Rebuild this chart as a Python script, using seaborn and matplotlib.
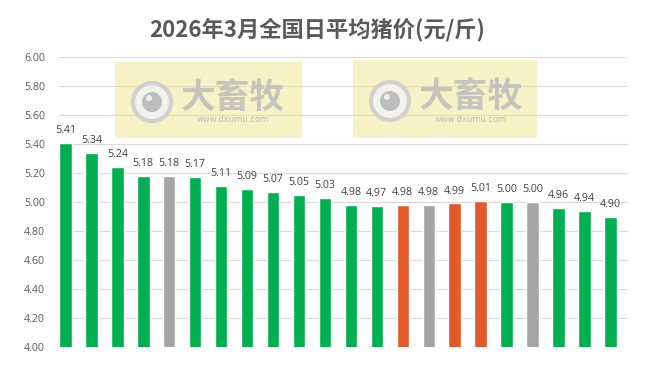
import matplotlib
matplotlib.use("Agg")
import matplotlib.pyplot as plt
import seaborn as sns
import pandas as pd
from matplotlib.patches import Rectangle, Ellipse

title = "2026年3月全国日平均猪价(元/斤)"
days = [f"3月{d}日" for d in range(1, 23)]
prices = [5.41, 5.34, 5.24, 5.18, 5.18, 5.17, 5.11, 5.09, 5.07, 5.05, 5.03,
          4.98, 4.97, 4.98, 4.98, 4.99, 5.01, 5.00, 5.00, 4.96, 4.94, 4.90]
kinds = (["green"] * 4 + ["gray"] + ["green"] * 8 +
         ["orange", "gray", "orange", "orange", "green", "gray", "green", "green", "green"])
yticks = [4.00, 4.20, 4.40, 4.60, 4.80, 5.00, 5.20, 5.40, 5.60, 5.80, 6.00]

palette = {"green": "#00B050", "gray": "#A5A5A5", "orange": "#E35A2A"}

sns.set_theme(style="white")
plt.rcParams["font.family"] = ["Open Sans", "Noto Sans CJK SC", "DejaVu Sans"]

df = pd.DataFrame({"day": days, "price": prices, "kind": kinds})

W, H = 654, 367
fig = plt.figure(figsize=(W / 100, H / 100), dpi=100)
ax = fig.add_axes([59 / W, 1 - 347 / H, (628 - 59) / W, 290 / H])

sns.barplot(data=df, x="day", y="price", hue="kind", palette=palette,
            dodge=False, width=0.48, legend=False, ax=ax, zorder=3,
            order=days, saturation=1)

ax.set_ylim(4.0, 6.0)
ax.set_xlim(-0.25, 21.68)
ax.set_yticks(yticks)
ax.set_yticklabels([f"{v:.2f}" for v in yticks])
ax.yaxis.grid(True, color="#D9D9D9", linewidth=0.8, zorder=0)
ax.set_axisbelow(True)
ax.set_xticks([])
ax.set_xlabel("")
ax.set_ylabel("")
for s in ax.spines.values():
    s.set_visible(False)
ax.tick_params(axis="y", length=0, pad=10, labelsize=7.7, labelcolor="#595959")

for cont in ax.containers:
    ax.bar_label(cont, fmt="%.2f", padding=5, fontsize=7.7, color="#404040")

fig.text(317.5 / W, 1 - 30 / H, title, ha="center", va="center",
         fontsize=16, fontweight="bold", color="#595959",
         family=["Noto Sans CJK SC", "DejaVu Sans"])

# watermarks
def watermark(x0, y0, x1, y1):
    tf = fig.transFigure
    fig.patches.append(Rectangle((x0 / W, 1 - y1 / H), (x1 - x0) / W, (y1 - y0) / H,
                                 transform=tf, facecolor="#F0E68C", alpha=0.5,
                                 edgecolor="none", zorder=5))
    cx, cy = x0 + 37, (y0 + y1) / 2 + 2
    r = 19
    fig.patches.append(Ellipse((cx / W, 1 - cy / H), 2 * r / W, 2 * r / H, transform=tf,
                               facecolor="#F2F2F2", edgecolor="#CDCDCD", linewidth=3,
                               alpha=0.9, zorder=6))
    r2 = 10
    fig.patches.append(Ellipse((cx / W, 1 - cy / H), 2 * r2 / W, 2 * r2 / H, transform=tf,
                               facecolor="#B8B8B8", edgecolor="none", alpha=0.9, zorder=7))
    r3 = 3
    fig.patches.append(Ellipse(((cx - 3) / W, 1 - (cy - 4) / H), 2 * r3 / W, 2 * r3 / H,
                               transform=tf, facecolor="#EEEEEE", edgecolor="none", zorder=8))
    tx = x0 + 118
    fig.text(tx / W, 1 - (cy - 5) / H, "大畜牧", ha="center", va="center", fontsize=25,
             fontweight="bold", color="#BDBDBD", alpha=0.85, zorder=6,
             family=["Noto Sans CJK SC"])
    fig.text(tx / W, 1 - (cy + 18) / H, "www.dxumu.com", ha="center", va="center",
             fontsize=6, color="#BDBDBD", zorder=6, family=["DejaVu Sans"])

watermark(115, 62, 302, 138)
watermark(353, 60, 537, 138)

fig.savefig("out.png", dpi=100)
